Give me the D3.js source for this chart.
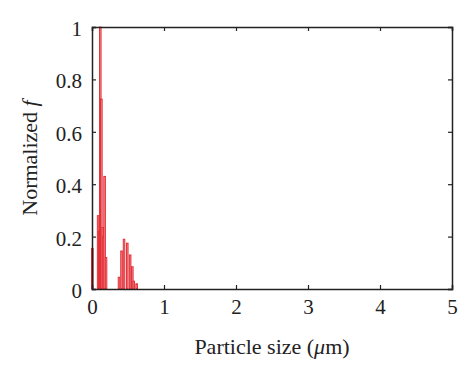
<!DOCTYPE html>
<html lang="en">
<head>
    <meta charset="UTF-8">
    <title>Normalized f vs particle size</title>
    <script src="https://d3js.org/d3.v7.min.js"></script>
    <style>
        body { margin: 0; background: #fff; }
        text { font-family: "Liberation Serif", "DejaVu Serif", serif; fill: #222; }
    </style>
</head>
<body>
    <script>
        //SVG dimensions
        var w = 474;
        var h = 372;
        var margin = { left: 92, right: 22, top: 27, bottom: 83 };

        //Data
        var sizes = [0.005, 0.085, 0.10, 0.115, 0.13, 0.15, 0.16, 0.175, 0.195,
                     0.375, 0.41, 0.445, 0.49, 0.53, 0.56, 0.58, 0.62];
        var values = [0.155, 0.28, 0.22, 1.0, 0.725, 0.235, 0.2, 0.43, 0.12,
                      0.045, 0.145, 0.19, 0.175, 0.13, 0.085, 0.03, 0.02];
        var xTicks = [0, 1, 2, 3, 4, 5];
        var yTicks = [0, 0.2, 0.4, 0.6, 0.8, 1];

        var svg = d3.select("body")
            .append("svg")
            .attr("width", w)
            .attr("height", h);

        var xScale = d3.scaleLinear()
            .domain([0, 5])
            .range([margin.left, w - margin.right]);

        var yScale = d3.scaleLinear()
            .domain([0, 1])
            .range([h - margin.bottom, margin.top]);

        //Bars
        var barW = 1.6;
        svg.selectAll("rect.bar")
            .data(sizes)
            .enter()
            .append("rect")
            .attr("class", "bar")
            .attr("x", function(d) { return xScale(d) - barW / 2; })
            .attr("y", function(d, i) { return yScale(values[i]); })
            .attr("width", barW)
            .attr("height", function(d, i) { return yScale(0) - yScale(values[i]); })
            .attr("fill", "#f08a90")
            .attr("stroke", "#e2282f")
            .attr("stroke-width", 0.9);

        //Axes with inward ticks on all sides
        var fmt = function(d) { return d3.format("~g")(d); };
        svg.append("g")
            .attr("transform", "translate(0," + yScale(0) + ")")
            .call(d3.axisBottom(xScale).tickValues(xTicks).tickSize(-4).tickPadding(10).tickFormat(fmt))
            .call(function(g) { g.selectAll("text").style("font-size", "21px"); });
        svg.append("g")
            .attr("transform", "translate(0," + yScale(1) + ")")
            .call(d3.axisTop(xScale).tickValues(xTicks).tickSize(-4).tickFormat(""));
        svg.append("g")
            .attr("transform", "translate(" + xScale(0) + ",0)")
            .call(d3.axisLeft(yScale).tickValues(yTicks).tickSize(-4).tickPadding(10).tickFormat(fmt))
            .call(function(g) { g.selectAll("text").style("font-size", "21px").attr("dy", "0.4em"); });
        svg.append("g")
            .attr("transform", "translate(" + xScale(5) + ",0)")
            .call(d3.axisRight(yScale).tickValues(yTicks).tickSize(-4).tickFormat(""));

        svg.selectAll(".domain").attr("stroke", "#222").attr("stroke-width", 1.5);
        svg.selectAll(".tick line").attr("stroke", "#222").attr("stroke-width", 1.2);
        svg.selectAll(".tick text").attr("fill", "#222");

        //Axis labels
        svg.append("text")
            .attr("x", (xScale(0) + xScale(5)) / 2)
            .attr("y", 354)
            .attr("text-anchor", "middle")
            .style("font-size", "22px")
            .html("Particle size (<tspan font-style='italic'>μ</tspan>m)");

        svg.append("text")
            .attr("transform", "translate(37," + (yScale(0.5)) + ") rotate(-90)")
            .attr("text-anchor", "middle")
            .style("font-size", "22px")
            .html("Normalized <tspan font-style='italic'>f</tspan>");
    </script>
</body>
</html>
